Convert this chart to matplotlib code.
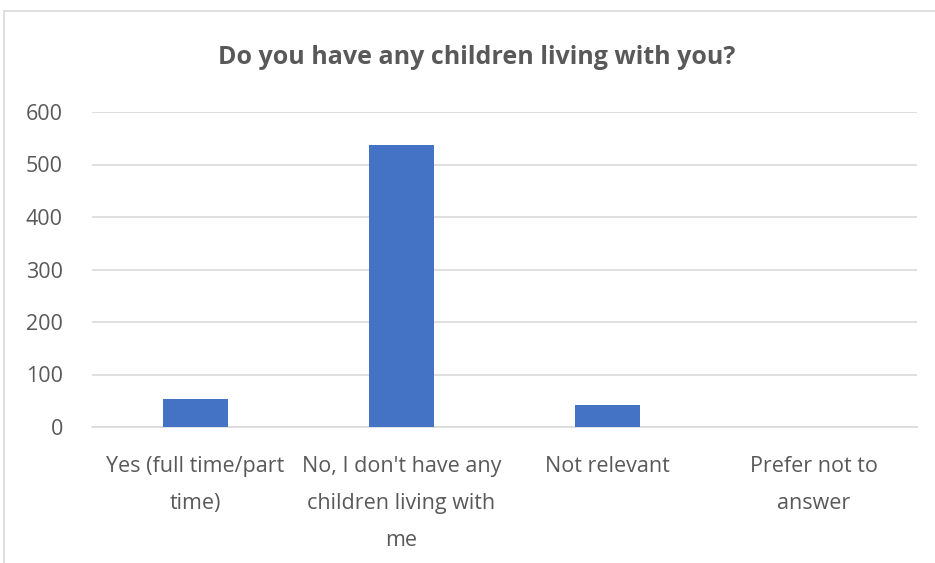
import matplotlib.pyplot as plt
from matplotlib.patches import Rectangle

categories = ["Yes (full time/part\ntime)",
              "No, I don't have any\nchildren living with\nme",
              "Not relevant",
              "Prefer not to\nanswer"]
counts = [53, 537, 42, 0]
yticks = [0, 100, 200, 300, 400, 500, 600]

plt.rcParams['font.family'] = ['Open Sans', 'DejaVu Sans']
txt = '#595959'

fig = plt.figure(figsize=(9.35, 5.63), dpi=100)
fig.patches.append(Rectangle((4 / 935, -0.1), 1.1, 1 - 11 / 563 + 0.1,
                             transform=fig.transFigure, fill=False,
                             edgecolor='#d9d9d9', linewidth=1.2))

ax = fig.add_axes([92 / 935, 1 - 427 / 563, (917 - 92) / 935, (427 - 112) / 563])
x = range(len(categories))
ax.bar(x, counts, width=0.315, color='#4472c4', zorder=3)

ax.set_xlim(-0.5, len(categories) - 0.5)
ax.set_ylim(0, 600)
ax.set_yticks(yticks)
ax.set_xticks(list(x))
ax.set_xticklabels(categories, fontsize=15.5, color=txt, linespacing=2.0, va='top')
ax.tick_params(axis='y', labelsize=15.5, labelcolor=txt, length=0, pad=21)
ax.tick_params(axis='x', length=0, pad=21)
ax.grid(axis='y', color='#d9d9d9', linewidth=1.2, zorder=0)
for s in ['top', 'right', 'left']:
    ax.spines[s].set_visible(False)
ax.spines['bottom'].set_color('#d9d9d9')
ax.spines['bottom'].set_linewidth(1.2)

fig.text(477 / 935, 1 - 57 / 563, 'Do you have any children living with you?',
         ha='center', va='center', fontsize=18, fontweight='bold', color=txt)

fig.savefig('out.png', dpi=100)
